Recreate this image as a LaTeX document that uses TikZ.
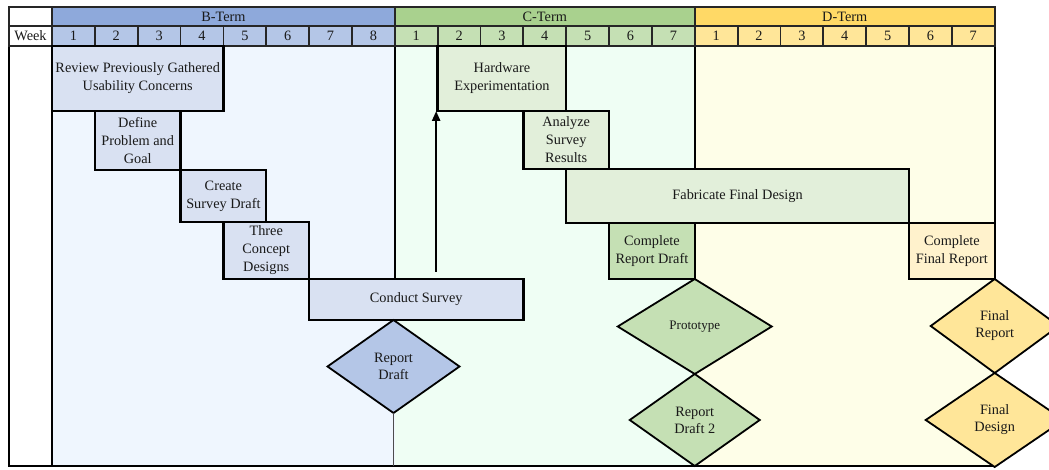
\documentclass[tikz,border=0pt]{standalone}
\usepackage{fontspec}
\setmainfont{Liberation Serif}
\usetikzlibrary{arrows.meta,calc,shapes.geometric}
\definecolor{BHeadClr}{HTML}{8EA9DB}
\definecolor{BWeekClr}{HTML}{B4C6E7}
\definecolor{BTaskClr}{HTML}{D9E1F2}
\definecolor{BBackClr}{HTML}{EFF6FE}
\definecolor{CHeadClr}{HTML}{A9D18E}
\definecolor{CWeekClr}{HTML}{C5E0B4}
\definecolor{CTaskClr}{HTML}{E2EFDA}
\definecolor{CBackClr}{HTML}{EFFEF4}
\definecolor{DHeadClr}{HTML}{FFD966}
\definecolor{DWeekClr}{HTML}{FFE699}
\definecolor{DTaskClr}{HTML}{FFF2CC}
\definecolor{DBackClr}{HTML}{FEFEE8}
\def\wk{42.85pt}

\begin{document}
\begin{tikzpicture}[x=1pt,y=-1pt,
  every node/.style={font=\fontsize{14.3}{18}\selectfont,text=black!90,align=center,inner sep=0pt,outer sep=0pt},
  headcell/.style={draw=black!85,line width=1.8pt,anchor=north west,minimum height=19pt},
  weekcell/.style={draw=black!85,line width=1.8pt,anchor=north west,minimum width=\wk,minimum height=20pt},
  taskbox/.style={draw=black,line width=2.4pt,anchor=north west},
  milestone/.style={diamond,draw=black,line width=1.8pt,anchor=north,font=\fontsize{14.3}{17}\selectfont},
  frameline/.style={draw=black,line width=2.4pt},
  flow/.style={line width=2.4pt,-{Triangle[length=10pt,width=8pt]}}]
\useasboundingbox (0,0) rectangle (1049,470);

% term backgrounds
\fill[BBackClr] (52,46) rectangle (394.8,466);
\fill[CBackClr] (394.8,46) rectangle (694.75,466);
\fill[DBackClr] (694.75,46) rectangle (994.7,466);
\coordinate (btm) at (9,466);

\draw[frameline,fill=white] (9,46) rectangle (52,466);
\draw[frameline] (btm) -- (994.7,466);
\draw[frameline] (394.8,46) -- (394.8,279);
\draw[frameline] (694.75,46) -- (694.75,169);
\draw[frameline] (994.7,46) -- (994.7,223);

% header
\node[headcell,fill=white,minimum width=43pt] (corner) at (9,7) {};
\node[weekcell,fill=white,minimum width=43pt] (week) at (9,26) {Week};
\node[headcell,fill=BHeadClr,minimum width=8*\wk] (bterm) at (52,7) {B-Term};
\node[headcell,fill=CHeadClr,minimum width=7*\wk] (cterm) at (394.8,7) {C-Term};
\node[headcell,fill=DHeadClr,minimum width=7*\wk] (dterm) at (694.75,7) {D-Term};
\foreach \i in {1,...,8}
  \node[weekcell,fill=BWeekClr] (wb\i) at ({52+(\i-1)*42.85},26) {\i};
\foreach \i in {1,...,7}
  \node[weekcell,fill=CWeekClr] (wc\i) at ({394.8+(\i-1)*42.85},26) {\i};
\foreach \i in {1,...,7}
  \node[weekcell,fill=DWeekClr] (wd\i) at ({694.75+(\i-1)*42.85},26) {\i};

% B-term tasks
\node[taskbox,fill=BTaskClr,minimum width=4*\wk,minimum height=65pt] (review) at (52,46) {Review Previously Gathered\\Usability Concerns};
\node[taskbox,fill=BTaskClr,minimum width=2*\wk,minimum height=59pt] (define) at (94.85,111) {Define\\Problem and\\Goal};
\node[taskbox,fill=BTaskClr,minimum width=2*\wk,minimum height=52pt] (sdraft) at (180.55,170) {Create\\Survey Draft};
\node[taskbox,fill=BTaskClr,minimum width=2*\wk,minimum height=57pt] (concept) at (223.4,222) {Three\\Concept\\Designs};
\node[taskbox,fill=BTaskClr,minimum width=5*\wk,minimum height=41pt] (survey) at (309.1,279) {Conduct Survey};

% C-term tasks
\node[taskbox,fill=CTaskClr,minimum width=3*\wk,minimum height=65pt] (hwexp) at (437.65,46) {Hardware\\Experimentation};
\node[taskbox,fill=CTaskClr,minimum width=2*\wk,minimum height=58pt] (analyze) at (523.35,111) {Analyze\\Survey\\Results};
\node[taskbox,fill=CTaskClr,minimum width=8*\wk,minimum height=54pt] (fabric) at (566.2,169) {Fabricate Final Design};
\node[taskbox,fill=CWeekClr,minimum width=2*\wk,minimum height=56pt] (crdraft) at (609.05,223) {Complete\\Report Draft};

% D-term tasks
\node[taskbox,fill=DTaskClr,minimum width=2*\wk,minimum height=56pt] (cfreport) at (909,223) {Complete\\Final Report};

% milestones
\node[milestone,fill=BWeekClr,minimum width=132pt,minimum height=93pt] (rdraft) at (393.5,320) {Report\\Draft};
\node[milestone,fill=CWeekClr,minimum width=154pt,minimum height=95pt,font=\fontsize{13}{16}\selectfont] (proto) at (crdraft.south east) {Prototype};
\node[milestone,fill=CWeekClr,minimum width=130pt,minimum height=92pt] (rdraft2) at (proto.south) {Report\\Draft 2};
\node[milestone,fill=DWeekClr,minimum width=128pt,minimum height=94pt] (freport) at (cfreport.south east) {Final\\Report};
\node[milestone,fill=DWeekClr,minimum width=138pt,minimum height=94pt] (fdesign) at (freport.south) {Final\\Design};

\draw[black!70,line width=1pt] (rdraft.south) -- (rdraft.south |- btm);

\coordinate (arrowfoot) at ($(survey.north -| hwexp.south west)+(-1.5,0)$);
\draw[flow,shorten <=7pt] (arrowfoot) -- (arrowfoot |- hwexp.south);

\end{tikzpicture}
\end{document}
